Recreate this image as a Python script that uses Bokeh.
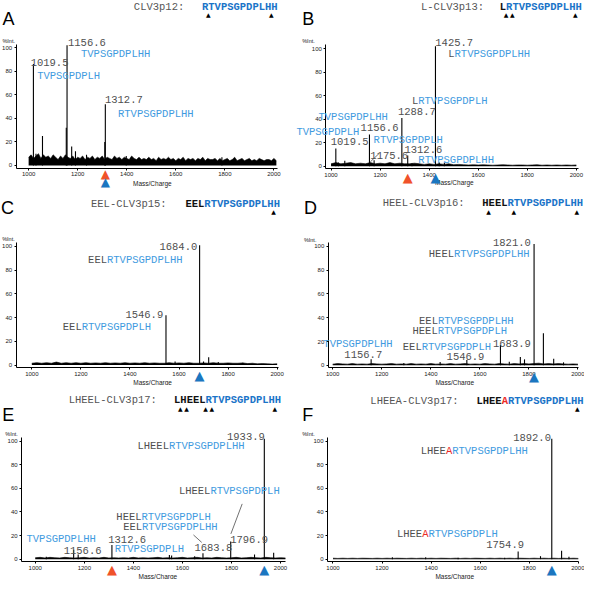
from bokeh.plotting import figure
from bokeh.models import Label, Range1d, FixedTicker
from bokeh.layouts import column, row
from bokeh.embed import file_html
from bokeh.resources import INLINE

# ---------------- data ----------------
letters = ["A", "B", "C", "D", "E", "F"]
construct_names = ["CLV3p12:", "L-CLV3p13:", "EEL-CLV3p15:", "HEEL-CLV3p16:",
                   "LHEEL-CLV3p17:", "LHEEA-CLV3p17:"]
sequences = [
    [("RTVPSGPDPLHH", "hb")],
    [("L", "k"), ("RTVPSGPDPLHH", "hb")],
    [("EEL", "k"), ("RTVPSGPDPLHH", "hb")],
    [("HEEL", "k"), ("RTVPSGPDPLHH", "hb")],
    [("LHEEL", "k"), ("RTVPSGPDPLHH", "hb")],
    [("LHEE", "k"), ("A", "r"), ("RTVPSGPDPLHH", "hb")],
]
cleavage_sites = [[1, 11], [1, 2, 12], [14], [1, 5, 15], [1, 2, 5, 6, 16], [16]]

# peaks (m/z, %Int.)
mz_A = [1019.5, 1030, 1056.5, 1153.5, 1156.6, 1175.5, 1191, 1236, 1310.5, 1312.7, 1398, 1788]
int_A = [86, 10, 25, 32, 102, 16, 12, 9, 20, 52, 8, 7]
mz_B = [1019.5, 1030, 1056, 1156.6, 1175.6, 1288.7, 1312.6, 1330, 1425.7, 1441, 1462]
int_B = [15, 3, 4.5, 27, 5, 41, 9, 2.5, 102, 3, 3]
mz_C = [1546.9, 1584, 1684.0, 1700, 1721, 1760, 1860]
int_C = [42, 3, 101, 3, 6.5, 2.5, 2]
mz_D = [1156.7, 1290, 1438, 1546.9, 1683.9, 1720, 1765, 1782, 1821.0, 1859, 1901, 1941]
int_D = [5, 2, 2.7, 4.5, 17, 3, 7, 5, 102, 27, 5.5, 2.5]
mz_E = [1045, 1156.6, 1175, 1312.6, 1546.9, 1556, 1650, 1683.8, 1796.9, 1894, 1933.9, 1972]
int_E = [2, 8, 4, 12, 3.5, 3, 2.5, 5, 15, 4, 102, 5.5]
mz_F = [1242, 1378, 1510, 1700, 1754.9, 1846, 1892.0, 1932, 1962]
int_F = [1.5, 1.5, 1.2, 1.2, 6.5, 2.5, 102, 7, 2]

# baseline noise, sampled from m/z 1000 (A: every 10, others: every 20)
noise_A = [7, 9, 6, 8, 10, 6, 9, 7, 8, 6, 9, 7, 5, 8, 6, 9, 7, 6, 8, 5,
           7, 6, 8, 5, 7, 6, 8, 5, 7, 6, 8, 5, 7, 6, 5, 8, 6, 7, 5, 7,
           6, 5, 8, 6, 5, 7, 5, 6, 5, 7, 5, 6, 4, 7, 5, 6, 5, 7, 5, 6,
           4, 6, 5, 7, 4, 6, 5, 6, 4, 6, 5, 7, 4, 6, 5, 5, 6, 4, 6, 4,
           5, 6, 4, 5, 7, 4, 5, 6, 4, 5, 6, 4, 5, 4, 6, 5, 4, 5, 5, 4,
           6, 4, 5, 4]
noise_B = [2, 3, 2, 2.5, 3, 2, 2.5, 2, 3, 2, 2.5, 2, 3, 2, 2.5, 2, 2, 2.5, 2, 1.5,
           2, 1.5, 2, 1.5, 2, 1.2, 1.5, 1.2, 1, 1.2, 1, 1.2, 1, 0.8, 1, 1.2, 1, 0.8, 1, 1,
           0.8, 1, 1.2, 0.8, 1, 0.8, 1, 0.8, 1, 0.8, 1, 0.8]
noise_C = [1.5, 2, 1.5, 2, 1.5, 2.5, 1.5, 2, 1.5, 2, 1.5, 2, 1.5, 1.8, 1.5, 2, 1.5, 1.8, 1.5, 2,
           1.5, 1.8, 1.5, 2, 1.5, 1.8, 1.5, 1.5, 2, 1.5, 1.8, 1.5, 2, 1.5, 1.5, 1.8, 1.5, 2, 1.5, 1.5,
           1.8, 1.5, 1.5, 1.8, 1.2, 1.5, 1, 1.2, 1, 0.8, 1, 0.8]
noise_D = [1, 1.5, 1.2, 1, 1.5, 1, 1.2, 1, 1.5, 1.2, 1, 1.2, 1.5, 1, 1.2, 1, 1.5, 1, 1.2, 1,
           1.5, 1, 1.2, 1, 1.5, 1, 1.2, 1.5, 1, 1.2, 1, 1.5, 1.2, 1, 1.5, 1.2, 1, 1.5, 1.2, 1.5,
           1.2, 1.5, 1.8, 1.2, 1.5, 1.2, 1.5, 1.2, 1, 1.2, 1, 1]
noise_E = [1.2, 1.5, 1, 1.5, 1.2, 1, 1.5, 1.2, 1, 1.2, 1.5, 1, 1.2, 1, 1.5, 1, 1.2, 1, 1.2, 1,
           1.5, 1, 1.2, 1, 1.2, 1.5, 1, 1.2, 1, 1.2, 1.5, 1, 1.2, 1.5, 1, 1.2, 1, 1.5, 1.2, 1,
           1.2, 1.5, 1, 1.2, 1.5, 1.2, 1, 1.5, 1.2, 1, 1.2, 1]
noise_F = [0.8, 0.6, 0.8, 0.6, 0.8, 0.6, 0.8, 0.7, 0.6, 0.8, 0.6, 0.8, 0.6, 0.8, 0.7, 0.6, 0.8, 0.6, 0.8, 0.6,
           0.8, 0.6, 0.8, 0.7, 0.6, 0.8, 0.6, 0.8, 0.6, 0.8, 0.7, 0.6, 0.8, 0.6, 0.8, 0.6, 0.8, 0.6, 0.8, 0.7,
           0.6, 0.8, 0.6, 0.8, 0.6, 0.8, 0.6, 0.8, 0.6, 0.8, 0.6, 0.8]

# peak annotations: (text segments, m/z of left edge, %Int. of text centre)
ann_A = [([("1019.5", "g")], 1008.3, 87.6), ([("1156.6", "g")], 1160.4, 104),
         ([("1312.7", "g")], 1311.2, 55.9), ([("TVPSGPDPLHH", "b")], 1213.4, 94.5),
         ([("TVPSGPDPLH", "b")], 1034.8, 75.7), ([("RTVPSGPDPLHH", "b")], 1364.3, 44)]
ann_B = [([("1425.7", "g")], 1425, 105), ([("L", "g"), ("RTVPSGPDPLHH", "b")], 1477.8, 95.3),
         ([("L", "g"), ("RTVPSGPDPLH", "b")], 1329.6, 55.2), ([("1288.7", "g")], 1272.8, 46.1),
         ([("TVPSGPDPLHH", "b")], 948.8, 42), ([("TVPSGPDPLH", "b")], 858.7, 29.3),
         ([("1156.6", "g")], 1120.6, 33.1), ([("1019.5", "g")], 998.8, 20.7),
         ([("RTVPSGPDPLH", "b")], 1173.4, 22.6), ([("1175.6", "g")], 1160.3, 8.9),
         ([("1312.6", "g")], 1299.2, 14.3), ([("RTVPSGPDPLHH", "b")], 1356, 5.5)]
ann_C = [([("1684.0", "g")], 1520.2, 100), ([("EEL", "g"), ("RTVPSGPDPLHH", "b")], 1229.4, 88.2),
         ([("1546.9", "g")], 1381.4, 42.2), ([("EEL", "g"), ("RTVPSGPDPLH", "b")], 1126.2, 32)]
ann_D = [([("1821.0", "g")], 1653.6, 103.3), ([("HEEL", "g"), ("RTVPSGPDPLHH", "b")], 1391.7, 93.7),
         ([("EEL", "g"), ("RTVPSGPDPLHH", "b")], 1352, 36.9),
         ([("HEEL", "g"), ("RTVPSGPDPLH", "b")], 1325.4, 28.7),
         ([("EEL", "g"), ("RTVPSGPDPLH", "b")], 1285.7, 15.8), ([("1683.9", "g")], 1653.6, 18.5),
         ([("1546.9", "g")], 1464.4, 7.1), ([("TVPSGPDPLHH", "b")], 961.9, 18),
         ([("1156.7", "g")], 1047.6, 9.5)]
ann_E = [([("1933.9", "g")], 1781.7, 103.8), ([("LHEEL", "g"), ("RTVPSGPDPLHH", "b")], 1416.7, 95.6),
         ([("LHEEL", "g"), ("RTVPSGPDPLH", "b")], 1585.7, 58.1),
         ([("HEEL", "g"), ("RTVPSGPDPLH", "b")], 1330.6, 35.3),
         ([("EEL", "g"), ("RTVPSGPDPLHH", "b")], 1358.3, 27.1),
         ([("TVPSGPDPLHH", "b")], 964.3, 17), ([("1312.6", "g")], 1297.6, 17),
         ([("1156.6", "g")], 1116, 7.4), ([("RTVPSGPDPLH", "b")], 1323.9, 8.8),
         ([("1683.8", "g")], 1649, 10.1), ([("1796.9", "g")], 1794.8, 17)]
ann_F = [([("1892.0", "g")], 1734.5, 102.7),
         ([("LHEE", "g"), ("A", "r"), ("RTVPSGPDPLHH", "b")], 1357.5, 91.2),
         ([("LHEE", "g"), ("A", "r"), ("RTVPSGPDPLH", "b")], 1260.7, 21.1),
         ([("1754.9", "g")], 1624.6, 12)]

# leader lines (m/z0, int0, m/z1, int1)
leaders_B = [(1160, 3.6, 1197, 11)]
leaders_E = [(1645, 20.5, 1678.6, 14.2), (1843.7, 46.8, 1797.6, 21.4)]

# coloured arrowheads under the axis (m/z, colour)
marks_A = [(1312.7, "tr"), (1312.7, "tb")]
marks_B = [(1312.6, "tr"), (1425.7, "tb")]
marks_C = [(1684.0, "tb")]
marks_D = [(1821.0, "tb")]
marks_E = [(1312.6, "tr"), (1933.9, "tb")]
marks_F = [(1892.0, "tb")]

x_ticks = [1000, 1200, 1400, 1600, 1800, 2000]
y_ticks = [0, 20, 40, 60, 80, 100]

# ---------------- style / layout ----------------
COL = {"g": "#4f4f4f", "b": "#3f9be0", "k": "#111111", "hb": "#1a74c8", "r": "#ec2a24",
       "tr": "#f0522a", "tb": "#1b76c0", "n": "#555555"}
MONO = "Liberation Mono"
SANS = "Liberation Sans"
FS = 10.5
CHAR_W = FS * 0.6
KX = 0.252  # reference px per m/z unit

geom = {
    "A": dict(L=16, R=285, T=45, B=172.3, H=195, y0=169.3, ky=1.21, x1000=28.9, name_x=137, name_y=6.5,
              seq_x=207, tri_y=14, let_x=2, let_y=19, int_x=2, int_y=41.5, mc_x=156, mc_y=188.3,
              mark_y=[178.5, 186], mark_fs=12, step=10),
    "B": dict(L=34.3, R=293.5, T=45, B=172.7, H=195, y0=170, ky=1.207, x1000=39.6, name_x=132, name_y=6.5,
              seq_x=213, tri_y=14, let_x=10, let_y=19, int_x=10, int_y=41.7, mc_x=166.3, mc_y=187.3,
              mark_y=[182, 182], mark_fs=13, step=20),
    "C": dict(L=16, R=285.5, T=53.3, B=181.7, H=200, y0=179, ky=1.217, x1000=32.2, name_x=93, name_y=14,
              seq_x=190, tri_y=22, let_x=0.5, let_y=18, int_x=1.7, int_y=50, mc_x=156.3, mc_y=196.7,
              mark_y=[190], mark_fs=13, step=20),
    "D": dict(L=36.7, R=294, T=53.3, B=181.7, H=200, y0=179.3, ky=1.22, x1000=41.3, name_x=92.7, name_y=13.3,
              seq_x=195, tri_y=22, let_x=11.7, let_y=18, int_x=11.7, int_y=50.7, mc_x=166.7, mc_y=196.7,
              mark_y=[190.7], mark_fs=13, step=20),
    "E": dict(L=21.7, R=293.3, T=53.3, B=181.7, H=200, y0=179, ky=1.217, x1000=35.7, name_x=70, name_y=15,
              seq_x=178.3, tri_y=24, let_x=1.7, let_y=30, int_x=5, int_y=50, mc_x=161.7, mc_y=196.7,
              mark_y=[190, 190], mark_fs=13, step=20),
    "F": dict(L=36, R=294, T=53.3, B=181.7, H=200, y0=179, ky=1.217, x1000=41.6, name_x=80, name_y=16,
              seq_x=189, tri_y=24, let_x=10, let_y=30, int_x=10, int_y=50, mc_x=166.7, mc_y=196.7,
              mark_y=[190], mark_fs=13, step=20),
}

peaks = {"A": (mz_A, int_A), "B": (mz_B, int_B), "C": (mz_C, int_C),
         "D": (mz_D, int_D), "E": (mz_E, int_E), "F": (mz_F, int_F)}
noise = {"A": noise_A, "B": noise_B, "C": noise_C, "D": noise_D, "E": noise_E, "F": noise_F}
anns = {"A": ann_A, "B": ann_B, "C": ann_C, "D": ann_D, "E": ann_E, "F": ann_F}
leaders = {"A": [], "B": leaders_B, "C": [], "D": [], "E": leaders_E, "F": []}
marks = {"A": marks_A, "B": marks_B, "C": marks_C, "D": marks_D, "E": marks_E, "F": marks_F}

PANEL_W = 292
ROW_H = [190, 195, 194]


def px2x(g, px):
    return 1000 + (px - g["x1000"]) / KX


def px2y(g, py):
    return (g["y0"] - py) / g["ky"]


def add_segments(p, segs, x, y, font, size, bold=False, baseline="middle"):
    off = 0.0
    for txt, c in segs:
        p.add_layout(Label(x=x, y=y, x_offset=off, text=txt, text_font=font,
                           text_font_size=f"{size}px", text_color=COL[c],
                           text_font_style="bold" if bold else "normal",
                           text_align="left", text_baseline=baseline))
        off += len(txt) * size * 0.6


def make_panel(idx):
    key = letters[idx]
    g = geom[key]
    H = ROW_H[idx // 2]
    # the frame fills the whole panel; reference panel is 300 x g["H"] px
    xr = Range1d(px2x(g, 0), px2x(g, 300))
    yr = Range1d(px2y(g, g["H"]), px2y(g, 0))
    p = figure(width=PANEL_W, height=H, x_range=xr, y_range=yr, output_backend="svg",
               toolbar_location=None, min_border=0, min_border_left=0, min_border_right=0,
               min_border_top=0, min_border_bottom=0)
    p.outline_line_color = None
    p.grid.visible = False
    p.background_fill_color = "white"
    p.border_fill_color = "white"

    x_lo, x_hi = px2x(g, g["L"]), px2x(g, g["R"])
    y_lo, y_hi = px2y(g, g["B"]), px2y(g, g["T"])

    p.xaxis.fixed_location = y_lo
    p.xaxis.bounds = (x_lo, x_hi)
    p.yaxis.fixed_location = x_lo
    p.yaxis.bounds = (y_lo, y_hi)
    for ax, ticks in ((p.xaxis, x_ticks), (p.yaxis, y_ticks)):
        ax.ticker = FixedTicker(ticks=ticks)
        ax.major_label_text_font = SANS
        ax.major_label_text_font_size = "6px"
        ax.major_label_text_color = "#222222"
        ax.major_tick_out = 2
        ax.major_tick_in = 0
        ax.minor_tick_out = 0
        ax.minor_tick_in = 0
        ax.axis_line_color = "black"
        ax.major_tick_line_color = "black"
        ax.major_label_standoff = 2

    # baseline noise (kept within the axis extent)
    nz = noise[key]
    nx = [1000 + g["step"] * i for i in range(len(nz))]
    keep = [i for i in range(len(nz)) if nx[i] <= x_hi]
    nx = [nx[i] for i in keep]
    nz = [nz[i] for i in keep]
    p.varea(x=nx, y1=0, y2=nz, fill_color="black")
    p.line(x=nx, y=nz, line_color="black", line_width=0.6)

    # peaks
    mz, it = peaks[key]
    p.segment(x0=mz, y0=[0] * len(mz), x1=mz, y1=it, line_color="black", line_width=1.1)

    # leaders
    for (a, b, c, d) in leaders[key]:
        p.segment(x0=[a], y0=[b], x1=[c], y1=[d], line_color="#333333", line_width=0.7)

    # peak annotations
    for segs, x, y in anns[key]:
        add_segments(p, segs, x, y, MONO, FS)

    # panel letter
    p.add_layout(Label(x=px2x(g, g["let_x"]), y=px2y(g, g["let_y"]), text=key, text_font=SANS,
                       text_font_size="18px", text_color="black", text_align="left",
                       text_baseline="alphabetic"))
    # construct name and sequence
    p.add_layout(Label(x=px2x(g, g["name_x"]), y=px2y(g, g["name_y"]), text=construct_names[idx],
                       text_font=MONO, text_font_size=f"{FS}px", text_color=COL["n"],
                       text_align="left", text_baseline="middle"))
    add_segments(p, sequences[idx], px2x(g, g["seq_x"]), px2y(g, g["name_y"]), MONO, FS, bold=True)
    for site in cleavage_sites[idx]:
        p.add_layout(Label(x=px2x(g, g["seq_x"]), y=px2y(g, g["tri_y"]), x_offset=site * CHAR_W,
                           text="\u25B2", text_font="DejaVu Sans", text_font_size="6px",
                           text_color="black", text_align="center", text_baseline="middle"))
    # axis captions
    p.add_layout(Label(x=px2x(g, g["int_x"]), y=px2y(g, g["int_y"]), text="%Int.", text_font=SANS,
                       text_font_size="5.5px", text_color="#222222", text_align="left",
                       text_baseline="middle"))
    p.add_layout(Label(x=px2x(g, g["mc_x"]), y=px2y(g, g["mc_y"]), text="Mass/Charge", text_font=SANS,
                       text_font_size="6.5px", text_color="#222222", text_align="center",
                       text_baseline="middle"))
    # coloured arrowheads
    for (m, c), yy in zip(marks[key], g["mark_y"]):
        p.add_layout(Label(x=m, y=px2y(g, yy), text="\u25B2", text_font="DejaVu Sans",
                           text_font_size=f"{g['mark_fs']}px", text_color=COL[c], text_align="center",
                           text_baseline="middle"))
    return p


panels = [make_panel(i) for i in range(6)]
layout = column(row(panels[0], panels[1]), row(panels[2], panels[3]), row(panels[4], panels[5]))

open("out.html", "w").write(file_html(layout, INLINE))
